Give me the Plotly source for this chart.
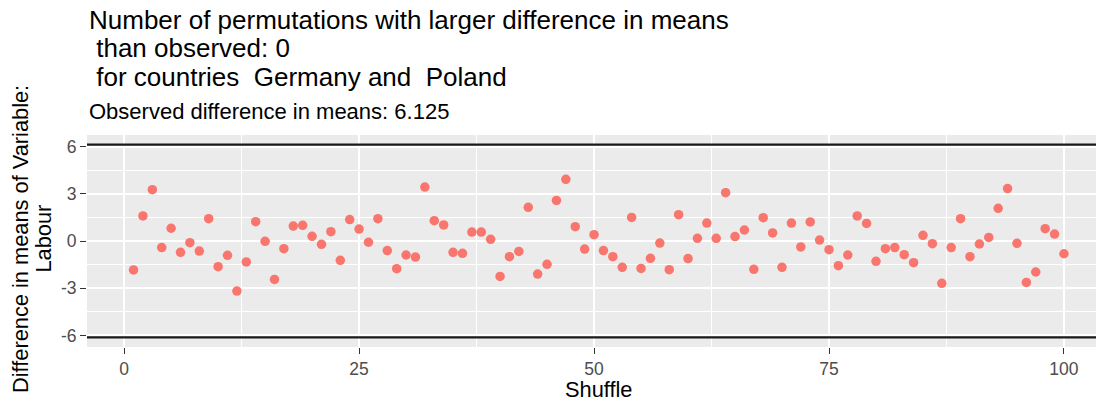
import plotly.graph_objects as go

# ---- data ----
shuffle = list(range(1, 101))
diff_means = [
    -1.84, 1.59, 3.26, -0.42, 0.81, -0.72, -0.11, -0.64, 1.42, -1.63,
    -0.91, -3.18, -1.33, 1.23, -0.02, -2.44, -0.49, 0.95, 1.00, 0.30,
    -0.21, 0.59, -1.23, 1.36, 0.76, -0.08, 1.42, -0.61, -1.76, -0.89,
    -1.02, 3.43, 1.29, 1.02, -0.72, -0.78, 0.57, 0.57, 0.11, -2.25,
    -1.00, -0.66, 2.14, -2.10, -1.48, 2.58, 3.92, 0.91, -0.51, 0.40,
    -0.61, -1.00, -1.67, 1.50, -1.74, -1.10, -0.13, -1.82, 1.67, -1.12,
    0.17, 1.14, 0.17, 3.07, 0.28, 0.70, -1.80, 1.48, 0.51, -1.67,
    1.14, -0.38, 1.21, 0.06, -0.55, -1.57, -0.89, 1.59, 1.12, -1.29,
    -0.49, -0.42, -0.87, -1.38, 0.36, -0.17, -2.69, -0.42, 1.42, -1.00,
    -0.19, 0.23, 2.08, 3.33, -0.15, -2.63, -1.97, 0.78, 0.44, -0.81,
]
observed = 6.125
n_larger = 0
country_a, country_b = "Germany", "Poland"
variable = "Labour"

x_ticks = [0, 25, 50, 75, 100]
x_minor = [12.5, 37.5, 62.5, 87.5]
y_ticks = [-6, -3, 0, 3, 6]
y_ticktext = ["-6", "-3", "0", "3", "6"]
y_minor = [-4.5, -1.5, 1.5, 4.5]

title_lines = [
    "Number of permutations with larger difference in means",
    f" than observed: {n_larger}",
    f" for countries  {country_a} and  {country_b}",
]
subtitle = f"Observed difference in means: {observed}"
x_title = "Shuffle"
y_title_lines = ["Difference in means of Variable:", variable]

# ---- figure ----
# The page body has an 8px margin, so the figure is laid out in page pixels minus 8.
OFF = 8
W, H = 1104 - OFF, 403 - OFF
ML, MR, MT, MB = 87 - OFF, 0, 135 - OFF, H - (347 - OFF)
PW, PH = W - ML - MR, H - MT - MB
FONT = "Liberation Sans, Arial, sans-serif"

def py(page_y):
    return (H - MB - (page_y - OFF)) / PH

def px(page_x):
    return ((page_x - OFF) - ML) / PW

fig = go.Figure()
fig.add_trace(go.Scatter(
    x=shuffle, y=diff_means, mode="markers",
    marker=dict(color="#F8766D", size=9.5, line=dict(width=0)),
    hoverinfo="x+y", showlegend=False,
))

for v in (observed, -observed):
    fig.add_shape(type="line", xref="x domain", x0=0, x1=1, yref="y", y0=v, y1=v,
                  line=dict(color="#1a1a1a", width=2.2), layer="above")

annos = []
title_y = [19.5, 48, 76.5]
for txt, yy in zip(title_lines, title_y):
    annos.append(dict(text=txt.replace(" ", "&nbsp;"),
                      xref="paper", yref="paper", x=px(87), y=py(yy),
                      xanchor="left", yanchor="middle", showarrow=False,
                      font=dict(family=FONT, size=26, color="black")))
annos.append(dict(text=subtitle, xref="paper", yref="paper", x=px(87), y=py(111),
                  xanchor="left", yanchor="middle", showarrow=False,
                  font=dict(family=FONT, size=22, color="black")))
annos.append(dict(text=x_title, xref="paper", yref="paper", x=px(598), y=py(389),
                  xanchor="center", yanchor="middle", showarrow=False,
                  font=dict(family=FONT, size=21.8, color="black")))
for txt, xx in zip(y_title_lines, [20, 42.5]):
    annos.append(dict(text=txt, xref="paper", yref="paper", x=px(xx), y=py(239),
                      xanchor="center", yanchor="middle", textangle=-90, showarrow=False,
                      font=dict(family=FONT, size=21.8, color="black")))

axis_common = dict(
    showgrid=True, gridcolor="white", gridwidth=2, zeroline=False,
    ticks="outside", ticklen=6, tickwidth=1.2, tickcolor="#333333",
    tickfont=dict(family=FONT, size=17.5, color="#4D4D4D"),
    showline=False, fixedrange=True, automargin=False,
)

fig.update_layout(
    width=W, height=H,
    margin=dict(l=ML, r=MR, t=MT, b=MB, pad=0, autoexpand=False),
    paper_bgcolor="white", plot_bgcolor="#EBEBEB",
    font=dict(family=FONT, color="black"),
    annotations=annos,
    xaxis=dict(
        range=[-3.95, 104.26], tickmode="array", tickvals=x_ticks,
        minor=dict(tickmode="array", tickvals=x_minor, showgrid=True,
                   gridcolor="white", gridwidth=1, ticks=""),
        **axis_common,
    ),
    yaxis=dict(
        range=[-6.7375, 6.7375], tickmode="array", tickvals=y_ticks, ticktext=y_ticktext,
        minor=dict(tickmode="array", tickvals=y_minor, showgrid=True,
                   gridcolor="white", gridwidth=1, ticks=""),
        **axis_common,
    ),
)

fig.write_html("out.html")
